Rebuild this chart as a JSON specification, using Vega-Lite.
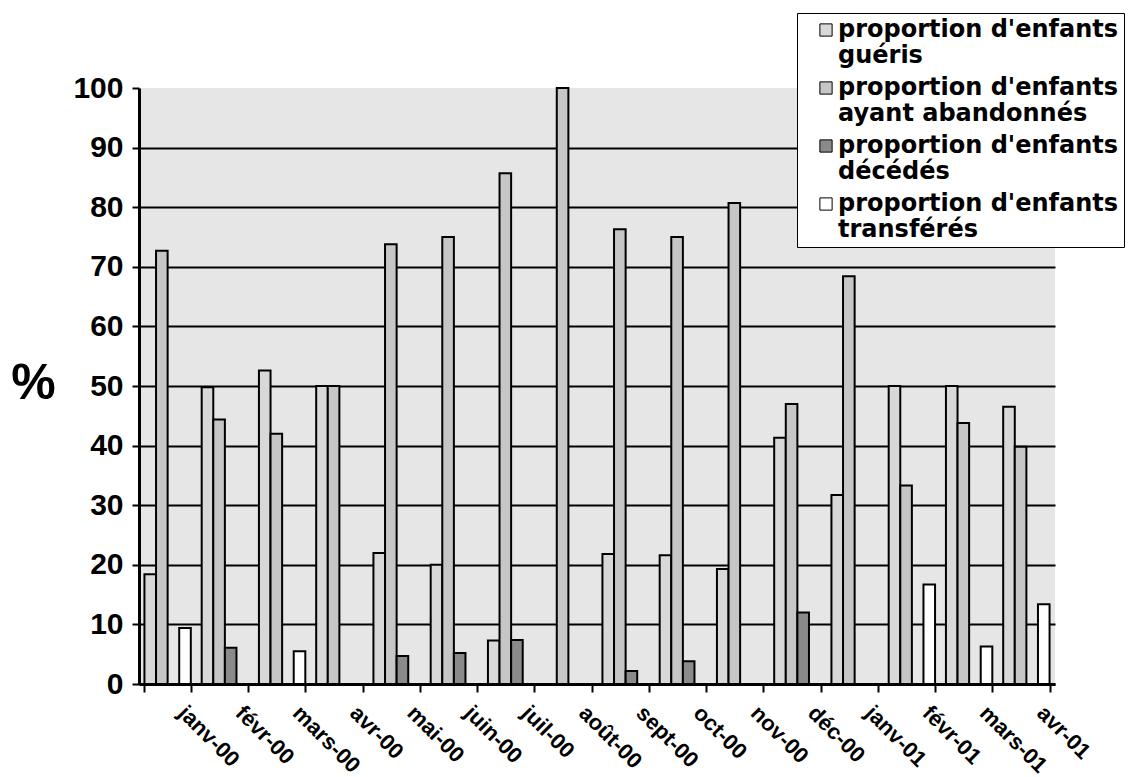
{
  "$schema": "https://vega.github.io/schema/vega-lite/v6.json",
  "width": 916,
  "height": 596,
  "autosize": "none",
  "padding": {"left": 139, "top": 88, "right": 76, "bottom": 93},
  "background": "white",
  "config": {"view": {"fill": "#e6e6e6", "stroke": null}, "font": "Liberation Sans"},
  "data": {"values": [
    {"mois": "janv-00", "serie": "proportion d'enfants guéris", "valeur": 18.4},
    {"mois": "janv-00", "serie": "proportion d'enfants ayant abandonnés", "valeur": 72.7},
    {"mois": "janv-00", "serie": "proportion d'enfants décédés", "valeur": 0},
    {"mois": "janv-00", "serie": "proportion d'enfants transférés", "valeur": 9.4},
    {"mois": "févr-00", "serie": "proportion d'enfants guéris", "valeur": 49.8},
    {"mois": "févr-00", "serie": "proportion d'enfants ayant abandonnés", "valeur": 44.4},
    {"mois": "févr-00", "serie": "proportion d'enfants décédés", "valeur": 6.1},
    {"mois": "févr-00", "serie": "proportion d'enfants transférés", "valeur": 0},
    {"mois": "mars-00", "serie": "proportion d'enfants guéris", "valeur": 52.6},
    {"mois": "mars-00", "serie": "proportion d'enfants ayant abandonnés", "valeur": 42},
    {"mois": "mars-00", "serie": "proportion d'enfants décédés", "valeur": 0},
    {"mois": "mars-00", "serie": "proportion d'enfants transférés", "valeur": 5.5},
    {"mois": "avr-00", "serie": "proportion d'enfants guéris", "valeur": 50},
    {"mois": "avr-00", "serie": "proportion d'enfants ayant abandonnés", "valeur": 50},
    {"mois": "avr-00", "serie": "proportion d'enfants décédés", "valeur": 0},
    {"mois": "avr-00", "serie": "proportion d'enfants transférés", "valeur": 0},
    {"mois": "mai-00", "serie": "proportion d'enfants guéris", "valeur": 22},
    {"mois": "mai-00", "serie": "proportion d'enfants ayant abandonnés", "valeur": 73.8},
    {"mois": "mai-00", "serie": "proportion d'enfants décédés", "valeur": 4.7},
    {"mois": "mai-00", "serie": "proportion d'enfants transférés", "valeur": 0},
    {"mois": "juin-00", "serie": "proportion d'enfants guéris", "valeur": 20},
    {"mois": "juin-00", "serie": "proportion d'enfants ayant abandonnés", "valeur": 75},
    {"mois": "juin-00", "serie": "proportion d'enfants décédés", "valeur": 5.2},
    {"mois": "juin-00", "serie": "proportion d'enfants transférés", "valeur": 0},
    {"mois": "juil-00", "serie": "proportion d'enfants guéris", "valeur": 7.3},
    {"mois": "juil-00", "serie": "proportion d'enfants ayant abandonnés", "valeur": 85.7},
    {"mois": "juil-00", "serie": "proportion d'enfants décédés", "valeur": 7.4},
    {"mois": "juil-00", "serie": "proportion d'enfants transférés", "valeur": 0},
    {"mois": "août-00", "serie": "proportion d'enfants guéris", "valeur": 0},
    {"mois": "août-00", "serie": "proportion d'enfants ayant abandonnés", "valeur": 100},
    {"mois": "août-00", "serie": "proportion d'enfants décédés", "valeur": 0},
    {"mois": "août-00", "serie": "proportion d'enfants transférés", "valeur": 0},
    {"mois": "sept-00", "serie": "proportion d'enfants guéris", "valeur": 21.8},
    {"mois": "sept-00", "serie": "proportion d'enfants ayant abandonnés", "valeur": 76.3},
    {"mois": "sept-00", "serie": "proportion d'enfants décédés", "valeur": 2.2},
    {"mois": "sept-00", "serie": "proportion d'enfants transférés", "valeur": 0},
    {"mois": "oct-00", "serie": "proportion d'enfants guéris", "valeur": 21.6},
    {"mois": "oct-00", "serie": "proportion d'enfants ayant abandonnés", "valeur": 75},
    {"mois": "oct-00", "serie": "proportion d'enfants décédés", "valeur": 3.8},
    {"mois": "oct-00", "serie": "proportion d'enfants transférés", "valeur": 0},
    {"mois": "nov-00", "serie": "proportion d'enfants guéris", "valeur": 19.3},
    {"mois": "nov-00", "serie": "proportion d'enfants ayant abandonnés", "valeur": 80.7},
    {"mois": "nov-00", "serie": "proportion d'enfants décédés", "valeur": 0},
    {"mois": "nov-00", "serie": "proportion d'enfants transférés", "valeur": 0},
    {"mois": "déc-00", "serie": "proportion d'enfants guéris", "valeur": 41.3},
    {"mois": "déc-00", "serie": "proportion d'enfants ayant abandonnés", "valeur": 47},
    {"mois": "déc-00", "serie": "proportion d'enfants décédés", "valeur": 12},
    {"mois": "déc-00", "serie": "proportion d'enfants transférés", "valeur": 0},
    {"mois": "janv-01", "serie": "proportion d'enfants guéris", "valeur": 31.7},
    {"mois": "janv-01", "serie": "proportion d'enfants ayant abandonnés", "valeur": 68.4},
    {"mois": "janv-01", "serie": "proportion d'enfants décédés", "valeur": 0},
    {"mois": "janv-01", "serie": "proportion d'enfants transférés", "valeur": 0},
    {"mois": "févr-01", "serie": "proportion d'enfants guéris", "valeur": 50},
    {"mois": "févr-01", "serie": "proportion d'enfants ayant abandonnés", "valeur": 33.3},
    {"mois": "févr-01", "serie": "proportion d'enfants décédés", "valeur": 0},
    {"mois": "févr-01", "serie": "proportion d'enfants transférés", "valeur": 16.7},
    {"mois": "mars-01", "serie": "proportion d'enfants guéris", "valeur": 50},
    {"mois": "mars-01", "serie": "proportion d'enfants ayant abandonnés", "valeur": 43.8},
    {"mois": "mars-01", "serie": "proportion d'enfants décédés", "valeur": 0},
    {"mois": "mars-01", "serie": "proportion d'enfants transférés", "valeur": 6.3},
    {"mois": "avr-01", "serie": "proportion d'enfants guéris", "valeur": 46.5},
    {"mois": "avr-01", "serie": "proportion d'enfants ayant abandonnés", "valeur": 39.8},
    {"mois": "avr-01", "serie": "proportion d'enfants décédés", "valeur": 0},
    {"mois": "avr-01", "serie": "proportion d'enfants transférés", "valeur": 13.4}
  ]},
  "mark": {"type": "bar", "stroke": "black", "strokeWidth": 2},
  "encoding": {
    "x": {
      "field": "mois", "type": "nominal", "sort": null, "title": null,
      "scale": {"paddingInner": 0.19, "paddingOuter": 0.095},
      "axis": {
        "domainColor": "black", "domainWidth": 3, "tickBand": "extent",
        "tickColor": "black", "tickWidth": 2, "tickSize": 8,
        "labelAngle": 45, "labelAlign": "left", "labelBaseline": "top",
        "labelFontSize": 22, "labelFontWeight": "bold", "labelColor": "black",
        "labelOffset": 21, "labelPadding": 10
      }
    },
    "xOffset": {
      "field": "serie", "type": "nominal", "sort": null,
      "scale": {"paddingInner": 0, "paddingOuter": 0}
    },
    "y": {
      "field": "valeur", "type": "quantitative",
      "scale": {"domain": [0, 100]},
      "axis": {
        "values": [0, 10, 20, 30, 40, 50, 60, 70, 80, 90, 100],
        "domainColor": "black", "domainWidth": 3,
        "tickColor": "black", "tickWidth": 2, "tickSize": 7,
        "labelFontSize": 30, "labelFontWeight": "bold", "labelColor": "black", "labelPadding": 9,
        "grid": true, "gridColor": "black", "gridWidth": 2,
        "gridOpacity": {"condition": {"test": "datum.value == 100", "value": 0}, "value": 1},
        "title": "%", "titleAngle": 0, "titleFontSize": 50, "titleFontWeight": "bold", "titleColor": "black",
        "titleX": -106, "titleY": 295, "titleAlign": "center", "titleBaseline": "middle"
      }
    },
    "fill": {
      "field": "serie", "type": "nominal",
      "scale": {
        "domain": ["proportion d'enfants guéris", "proportion d'enfants ayant abandonnés", "proportion d'enfants décédés", "proportion d'enfants transférés"],
        "range": ["#d8d8d8", "#c6c6c6", "#8a8a8a", "#ffffff"]
      },
      "legend": {
        "orient": "none", "legendX": 658, "legendY": -75, "title": null,
        "strokeColor": "black", "fillColor": "white", "padding": 5,
        "labelExpr": "[slice(datum.label, 0, 20) + '      ', ' ' + slice(datum.label, 21)]",
        "labelFont": "DejaVu Sans", "labelFontSize": 24, "labelFontWeight": "bold", "labelColor": "black",
        "labelLimit": 800, "labelBaseline": "middle", "labelOffset": 0,
        "symbolType": "square", "symbolSize": 150, "symbolStrokeColor": "black", "symbolStrokeWidth": 1,
        "symbolOffset": 12,
        "rowPadding": 8
      }
    }
  }
}
